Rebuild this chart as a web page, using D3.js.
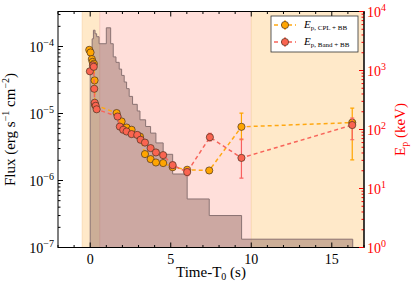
<!DOCTYPE html>
<html>
<head>
<meta charset="utf-8">
<script src="https://cdn.jsdelivr.net/npm/d3@7"></script>
<style>
  body { margin: 0; background: #fff; }
  svg text { font-family: "Liberation Serif", "DejaVu Serif", serif; }
</style>
</head>
<body>
<div id="chart"></div>
<script>
const width = 415;
const height = 286;

// light curve bins: start, end (s) and flux (erg s^-1 cm^-2)
const binStart = [0.00, 0.12, 0.20, 0.30, 0.40, 0.55, 1.00, 1.27, 1.43, 1.60, 1.80, 1.95, 2.11, 2.26, 2.42, 2.63, 2.92, 3.09, 3.44, 3.75, 4.08, 4.53, 5.12, 6.02, 7.39, 9.40];
const binEnd   = [0.12, 0.20, 0.30, 0.40, 0.55, 1.00, 1.27, 1.43, 1.60, 1.80, 1.95, 2.11, 2.26, 2.42, 2.63, 2.92, 3.09, 3.44, 3.75, 4.08, 4.53, 5.12, 6.02, 7.39, 9.40, 16.30];
const binFlux  = [7.0e-5, 1.3e-4, 1.75e-4, 1.55e-4, 1.4e-4, 1.1e-4, 1.9e-4, 1.1e-4, 7.0e-5, 5.8e-5, 4.6e-5, 3.7e-5, 2.95e-5, 2.35e-5, 1.8e-5, 1.37e-5, 1.09e-5, 8.05e-6, 6.4e-6, 5.1e-6, 3.64e-6, 2.46e-6, 1.25e-6, 5.3e-7, 3.0e-7, 1.33e-7];

// Ep from CPL+BB fits (keV)
const cplTime = [-0.06, 0.02, 0.10, 0.15, 0.23, 0.27, 0.30, 1.64, 1.95, 2.26, 2.57, 3.09, 3.40, 3.75, 4.08, 4.53, 5.12, 6.02, 7.39, 9.39, 16.27];
const cplEp   = [2240, 2020, 1560, 1400, 1300, 680, 261, 190, 137, 108, 99, 76, 38.3, 31.5, 27.6, 27, 23, 20.8, 20.2, 111, 131];
const cplLo   = [2060, 1850, 1430, 1290, 1200, 620, 240, 176, 127, 100, 92, 70, 35, 29, 25.5, 25, 21, 19, 18.5, 67, 30.6];
const cplHi   = [2440, 2200, 1700, 1520, 1410, 740, 284, 205, 148, 117, 107, 82, 41.5, 34, 30, 29, 25, 22.8, 22, 190, 231];

// Ep from Band+BB fits (keV)
const bandTime = [-0.02, 0.17, 0.22, 0.25, 0.28, 0.34, 0.40, 1.70, 1.84, 2.05, 2.26, 2.57, 2.92, 3.13, 3.40, 3.75, 4.08, 4.53, 5.12, 6.02, 7.43, 9.39, 16.27];
const bandEp   = [969, 1225, 1155, 490, 284, 252, 220, 166, 112, 99, 92.5, 83.6, 81, 67, 60, 48.4, 40.8, 36.8, 24.9, 19, 74, 33, 119];
const bandLo   = [890, 1130, 1060, 450, 262, 232, 203, 153, 103, 91, 85, 77, 74.5, 61.5, 55, 44.5, 37.5, 33.8, 22, 16.5, 64, 15, 67];
const bandHi   = [1050, 1320, 1250, 530, 306, 272, 237, 180, 121, 107, 100, 90, 87.5, 72.5, 65, 52.3, 44, 39.8, 28, 21.5, 86, 69, 156];

// shaded intervals (s)
const spanStart = [-0.5, 0.6, 10.0];
const spanEnd   = [0.6, 10.0, 17.0];
const spanColor = ["#ffe9c9", "#ffdfda", "#ffe9c9"];

const xTicks = [0, 5, 10, 15];
const fluxTicks = [-7, -6, -5, -4];
const epTicks = [0, 1, 2, 3, 4];

const mLeft = 58, mRight = 364, mTop = 11.5, mBottom = 247.5;

const x = d3.scaleLinear().domain([-2, 17]).range([mLeft, mRight]);
const yF = d3.scaleLog().domain([1e-7, 3.33e-4]).range([mBottom, mTop]);
const yE = d3.scaleLog().domain([1, 1e4]).range([mBottom, mTop]);

const svg = d3.select("#chart").append("svg")
    .attr("width", width)
    .attr("height", height);

svg.append("defs").append("clipPath").attr("id", "plot")
  .append("rect").attr("x", mLeft).attr("y", mTop)
    .attr("width", mRight - mLeft).attr("height", mBottom - mTop);

const plot = svg.append("g").attr("clip-path", "url(#plot)");

// background intervals
spanStart.forEach((s, i) => {
    plot.append("rect")
        .attr("x", x(s)).attr("y", mTop)
        .attr("width", x(spanEnd[i]) - x(s)).attr("height", mBottom - mTop)
        .attr("fill", spanColor[i])
        .attr("stroke", i == 1 ? "#f8c8c0" : "#f8d8b0")
        .attr("stroke-width", 0.8);
});

// light curve histogram
const steps = [];
binStart.forEach((s, i) => {
    steps.push([s, binFlux[i]]);
    steps.push([binEnd[i], binFlux[i]]);
});
plot.append("path")
    .datum(steps)
    .attr("fill", "#7a5048")
    .attr("fill-opacity", 0.38)
    .attr("stroke", "#8a7272")
    .attr("stroke-width", 1)
    .attr("d", d3.area()
        .x(d => x(d[0]))
        .y0(mBottom)
        .y1(d => yF(d[1])));

// Ep series
function drawSeries(ts, ep, lo, hi, lineColor, fill, barColor) {
    const g = plot.append("g");
    g.append("path")
        .datum(ts.map((t, i) => [t, ep[i]]))
        .attr("fill", "none")
        .attr("stroke", lineColor)
        .attr("stroke-width", 1.5)
        .attr("stroke-dasharray", "4,3")
        .attr("d", d3.line().x(d => x(d[0])).y(d => yE(d[1])));
    ts.forEach((t, i) => {
        const cx = x(t);
        g.append("line")
            .attr("x1", cx).attr("x2", cx)
            .attr("y1", yE(lo[i])).attr("y2", yE(hi[i]))
            .attr("stroke", barColor).attr("stroke-width", 1.2);
        [lo[i], hi[i]].forEach(v => {
            g.append("line")
                .attr("x1", cx - 2).attr("x2", cx + 2)
                .attr("y1", yE(v)).attr("y2", yE(v))
                .attr("stroke", barColor).attr("stroke-width", 1.2);
        });
    });
    g.selectAll("circle")
        .data(ts)
        .join("circle")
            .attr("cx", d => x(d))
            .attr("cy", (d, i) => yE(ep[i]))
            .attr("r", 3.6)
            .attr("fill", fill)
            .attr("stroke", "#4a3020")
            .attr("stroke-width", 0.7);
}

drawSeries(cplTime, cplEp, cplLo, cplHi, "#ffa812", "#ffa500", "#ffa500");
drawSeries(bandTime, bandEp, bandLo, bandHi, "#f8645a", "#fa6450", "#f86060");

// frame and ticks
const axes = svg.append("g");
axes.append("rect")
    .attr("x", mLeft).attr("y", mTop)
    .attr("width", mRight - mLeft).attr("height", mBottom - mTop)
    .attr("fill", "none").attr("stroke", "#000").attr("stroke-width", 1);

for (let t = -2; t <= 17; t++) {
    const len = t % 5 == 0 ? 5 : 2.5;
    axes.append("line").attr("x1", x(t)).attr("x2", x(t))
        .attr("y1", mBottom).attr("y2", mBottom - len).attr("stroke", "#000");
    axes.append("line").attr("x1", x(t)).attr("x2", x(t))
        .attr("y1", mTop).attr("y2", mTop + len).attr("stroke", "#000");
}
xTicks.forEach(t => {
    axes.append("text")
        .attr("x", x(t)).attr("y", mBottom + 16)
        .attr("text-anchor", "middle")
        .attr("font-size", 14)
        .text(t);
});

// log ticks on both sides
function logTicks(scale, lo, hi, xPos, dir, color) {
    for (let e = lo; e <= hi; e++) {
        for (let m = 1; m < 10; m++) {
            const v = m * Math.pow(10, e);
            const y = scale(v);
            if (y < mTop - 0.1 || y > mBottom + 0.1) continue;
            const len = m == 1 ? 5 : 2.5;
            axes.append("line").attr("x1", xPos).attr("x2", xPos + dir * len)
                .attr("y1", y).attr("y2", y).attr("stroke", color);
        }
    }
}
logTicks(yF, -7, -4, mLeft, 1, "#000");
logTicks(yE, 0, 4, mRight, -1, "#ff0000");
axes.append("line").attr("x1", mRight).attr("x2", mRight)
    .attr("y1", mTop).attr("y2", mBottom).attr("stroke", "#000");

function powerLabel(xp, y, exp, anchor, color) {
    const t = axes.append("text")
        .attr("x", xp).attr("y", y)
        .attr("text-anchor", anchor)
        .attr("fill", color)
        .attr("font-size", 14);
    t.append("tspan").text("10");
    t.append("tspan").attr("dy", -6).attr("font-size", 10).text(exp < 0 ? "\u2212" + (-exp) : exp);
}
fluxTicks.forEach(e => powerLabel(54, yF(Math.pow(10, e)) + 5, e, "end", "#000"));
epTicks.forEach(e => powerLabel(367, yE(Math.pow(10, e)) + 5, e, "start", "#ff0000"));

// axis titles
const xt = svg.append("text")
    .attr("x", (mLeft + mRight) / 2).attr("y", 277)
    .attr("text-anchor", "middle").attr("font-size", 15);
xt.append("tspan").text("Time-T");
xt.append("tspan").attr("font-size", 10).attr("dy", 3).text("0");
xt.append("tspan").attr("dy", -3).text(" (s)");

const yt = svg.append("text")
    .attr("transform", `translate(15,${(mTop + mBottom) / 2}) rotate(-90)`)
    .attr("text-anchor", "middle").attr("font-size", 15);
yt.append("tspan").text("Flux (erg s");
yt.append("tspan").attr("font-size", 10).attr("dy", -6).text("\u22121");
yt.append("tspan").attr("dy", 6).text(" cm");
yt.append("tspan").attr("font-size", 10).attr("dy", -6).text("\u22122");
yt.append("tspan").attr("dy", 6).text(")");

const rt = svg.append("text")
    .attr("transform", `translate(405,${(mTop + mBottom) / 2}) rotate(-90)`)
    .attr("text-anchor", "middle").attr("font-size", 15).attr("fill", "#ff0000");
rt.append("tspan").text("E");
rt.append("tspan").attr("font-size", 10).attr("dy", 3).text("p");
rt.append("tspan").attr("dy", -3).text(" (keV)");

// legend
const legendNames = ["p, CPL + BB", "p, Band + BB"];
const legendLine = ["#ffa812", "#f8645a"];
const legendFill = ["#ffa500", "#fa6450"];
const leg = svg.append("g");
leg.append("rect")
    .attr("x", 271).attr("y", 16).attr("width", 87).attr("height", 36)
    .attr("fill", "#fff").attr("stroke", "#333").attr("stroke-width", 0.8);
legendNames.forEach((name, i) => {
    const ly = 25 + i * 17;
    leg.append("line").attr("x1", 274).attr("x2", 296).attr("y1", ly).attr("y2", ly)
        .attr("stroke", legendLine[i]).attr("stroke-width", 1.5).attr("stroke-dasharray", "4,3");
    leg.append("line").attr("x1", 285).attr("x2", 285).attr("y1", ly - 5).attr("y2", ly + 5)
        .attr("stroke", legendFill[i]).attr("stroke-width", 1.2);
    leg.append("circle").attr("cx", 285).attr("cy", ly).attr("r", 3.6)
        .attr("fill", legendFill[i]).attr("stroke", "#4a3020").attr("stroke-width", 0.7);
    const t = leg.append("text").attr("x", 304).attr("y", ly + 3).attr("font-size", 11);
    t.append("tspan").attr("font-style", "italic").text("E");
    t.append("tspan").attr("font-size", 7).attr("dy", 2).text(name);
});
</script>
</body>
</html>
